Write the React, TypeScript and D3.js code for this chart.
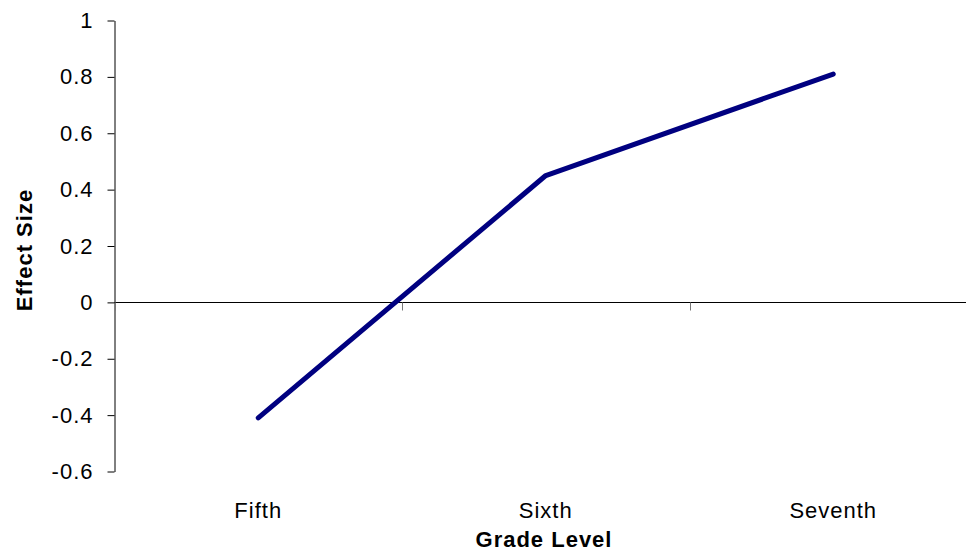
import React, { useEffect, useRef } from 'react';
import * as d3 from 'd3';

// Chart data
const grades = ['Fifth', 'Sixth', 'Seventh'];
const effectSizes = [-0.41, 0.45, 0.81];
const yTicks = [-0.6, -0.4, -0.2, 0, 0.2, 0.4, 0.6, 0.8, 1];

const width = 966;
const height = 557;
const plot = {
  left: 114.5,
  right: 977,
  top: 20.5,
  bottom: 471.5,
};
const font = '"Liberation Sans", Arial, sans-serif';
const fontSize = 22;
const spacing = 1;

const App: React.FC = () => {
  const svgRef = useRef<SVGSVGElement>(null);

  useEffect(() => {
    const svg = d3.select(svgRef.current);
    svg.selectAll('*').remove();

    const x = d3.scaleBand<string>()
      .domain(grades)
      .range([plot.left, plot.right]);
    const y = d3.scaleLinear()
      .domain([-0.6, 1])
      .range([plot.bottom, plot.top]);

    // Left axis with outer ticks (plain hyphen for negatives)
    const yAxis = svg.append('g')
      .attr('transform', `translate(${plot.left},0)`)
      .call(d3.axisLeft(y).tickValues(yTicks).tickSize(7).tickSizeOuter(0)
        .tickPadding(14)
        .tickFormat((d) => String(Math.round(+d * 10) / 10)));
    yAxis.select('.domain').attr('stroke', '#000');
    yAxis.selectAll('.tick line').attr('stroke', '#000');
    yAxis.selectAll('.tick text')
      .attr('font-family', font)
      .attr('font-size', fontSize)
      .attr('letter-spacing', spacing)
      .attr('fill', '#000');

    // Horizontal axis sits on zero
    const zeroY = Math.round(y(0)) + 0.5;
    svg.append('line')
      .attr('x1', plot.left)
      .attr('x2', plot.right)
      .attr('y1', zeroY)
      .attr('y2', zeroY)
      .attr('stroke', '#000');

    // Category boundary ticks
    const bounds = grades.map((g) => x(g) ?? 0).concat([plot.right]);
    svg.append('g')
      .selectAll('line')
      .data(bounds)
      .join('line')
      .attr('x1', (d) => Math.round(d) + 0.5)
      .attr('x2', (d) => Math.round(d) + 0.5)
      .attr('y1', zeroY)
      .attr('y2', zeroY + 8)
      .attr('stroke', '#777');

    // Category labels at the bottom
    svg.append('g')
      .selectAll('text')
      .data(grades)
      .join('text')
      .attr('x', (d) => (x(d) ?? 0) + x.bandwidth() / 2)
      .attr('y', 518)
      .attr('text-anchor', 'middle')
      .attr('font-family', font)
      .attr('font-size', fontSize)
      .attr('letter-spacing', spacing)
      .attr('fill', '#000')
      .text((d) => d);

    // The line
    const pts = grades.map((g, i) => [(x(g) ?? 0) + x.bandwidth() / 2, effectSizes[i]] as [number, number]);
    svg.append('path')
      .datum(pts)
      .attr('d', d3.line<[number, number]>().x((d) => d[0]).y((d) => y(d[1])))
      .attr('fill', 'none')
      .attr('stroke', '#000080')
      .attr('stroke-width', 5)
      .attr('stroke-linecap', 'round')
      .attr('stroke-linejoin', 'round');

    // Axis titles
    svg.append('text')
      .attr('x', 544)
      .attr('y', 547)
      .attr('text-anchor', 'middle')
      .attr('font-family', font)
      .attr('font-size', fontSize)
      .attr('letter-spacing', spacing)
      .attr('font-weight', 'bold')
      .text('Grade Level');

    svg.append('text')
      .attr('transform', 'translate(32,250) rotate(-90)')
      .attr('text-anchor', 'middle')
      .attr('font-family', font)
      .attr('font-size', fontSize)
      .attr('letter-spacing', spacing)
      .attr('font-weight', 'bold')
      .text('Effect Size');
  }, []);

  return (
    <svg
      ref={svgRef}
      width={width}
      height={height}
      style={{
        position: 'absolute', left: 0, top: 0, background: '#fff',
      }}
    />
  );
};

export default App;
